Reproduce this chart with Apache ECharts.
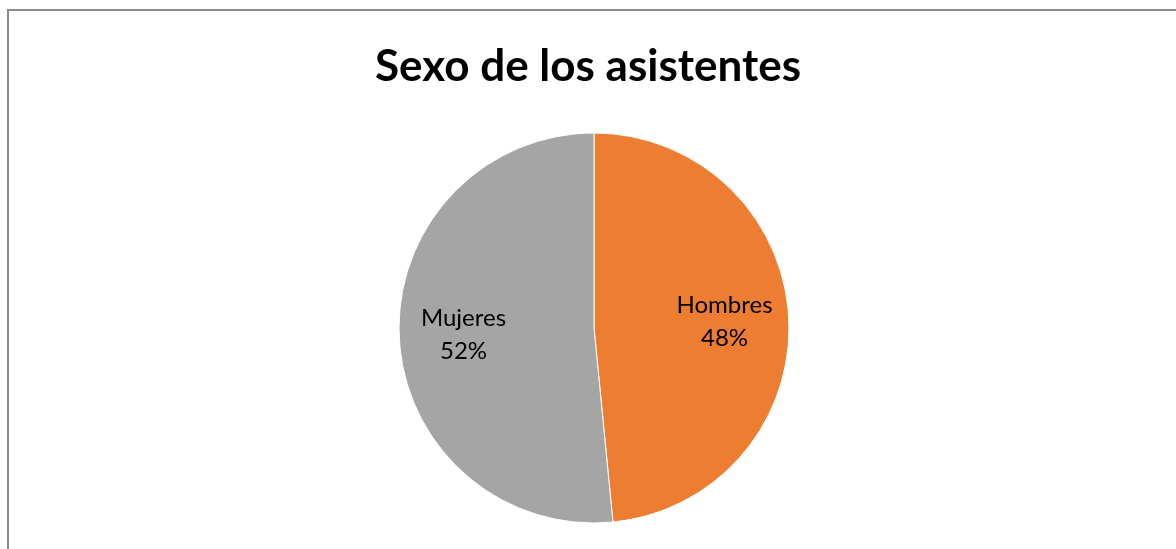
<!DOCTYPE html>
<html>
<head>
<meta charset="utf-8">
<script src="https://cdn.jsdelivr.net/npm/echarts@6/dist/echarts.min.js"></script>
<style>
html,body{margin:0;padding:0;background:#fff;}
#frame{position:absolute;left:7px;top:9px;width:1200px;height:600px;border-left:2px solid #8c8c8c;border-top:2px solid #8c8c8c;}
#c{position:absolute;left:0;top:0;width:1176px;height:549px;}
</style>
</head>
<body>
<div id="frame"></div>
<div id="c"></div>
<script>
var categories = ['Hombres', 'Mujeres'];
var values = [48.45, 51.55];
var colors = ['#ED7D31', '#A5A5A5'];
var titleText = 'Sexo de los asistentes';

var chart = echarts.init(document.getElementById('c'));
var cx = 594, cy = 328, R = 195;
var data = categories.map(function (c, i) {
  return { name: c, value: values[i], itemStyle: { color: colors[i] } };
});
chart.setOption({
  animation: false,
  title: {
    text: titleText, left: 'center', top: 40,
    textStyle: { fontFamily: 'Lato', fontWeight: 'bold', fontSize: 44, color: '#000' }
  },
  series: [{
    type: 'pie',
    center: [cx, cy],
    radius: [0, R],
    startAngle: 90,
    clockwise: true,
    data: data,
    itemStyle: { borderColor: '#fff', borderWidth: 1 },
    label: {
      show: true, position: 'inside',
      formatter: function (p) { return p.name + '\n' + Math.round(p.percent) + '%'; },
      fontFamily: 'Lato', fontSize: 24, color: '#000', lineHeight: 33
    },
    labelLayout: function (p) {
      var r = p.labelRect;
      var lx = r.x + r.width / 2, ly = r.y + r.height / 2;
      var k = 0.3;
      return { dx: (lx - cx) * k, dy: (ly - cy) * k };
    }
  }]
});
</script>
</body>
</html>
